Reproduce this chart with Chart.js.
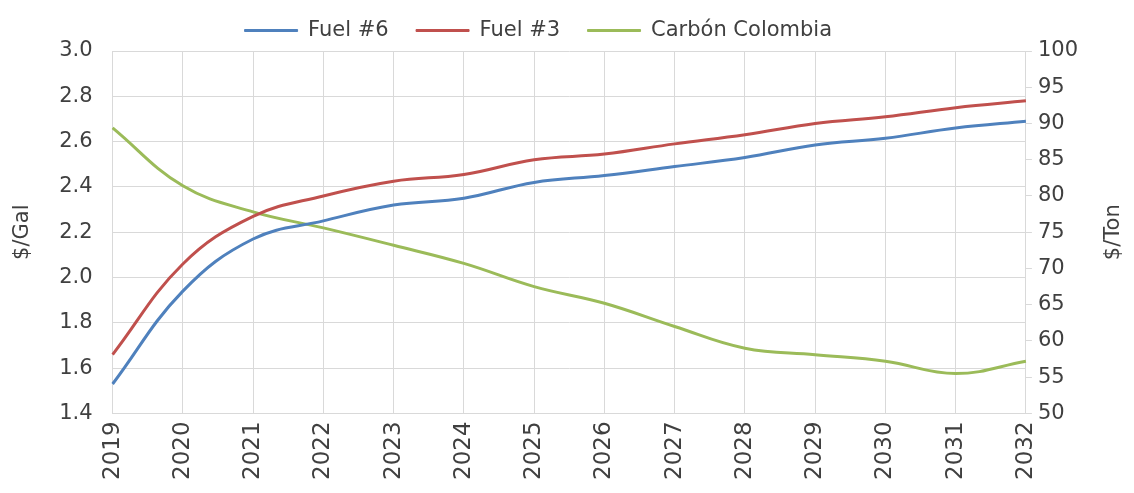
<!DOCTYPE html>
<html>
<head>
<meta charset="utf-8">
<script src="https://cdn.jsdelivr.net/npm/chart.js@4.4.0/dist/chart.umd.min.js"></script>
<style>
  html, body { margin: 0; padding: 0; background: #fff; }
  #wrap { width: 1134px; height: 493px; }
</style>
</head>
<body>
<div id="wrap"><canvas id="canvas1"></canvas></div>
<script>
var years = ["2019","2020","2021","2022","2023","2024","2025","2026","2027","2028","2029","2030","2031","2032"];
var fuel6 = [1.53, 1.94, 2.17, 2.25, 2.32, 2.35, 2.42, 2.45, 2.49, 2.53, 2.585, 2.615, 2.66, 2.69];
var fuel3 = [1.66, 2.06, 2.27, 2.36, 2.425, 2.455, 2.52, 2.545, 2.59, 2.63, 2.68, 2.71, 2.75, 2.78];
var carbon = [89.4, 81.4, 77.8, 75.6, 73.2, 70.7, 67.5, 65.2, 62.0, 59.0, 58.1, 57.2, 55.5, 57.2];

var font = "'DejaVu Sans', sans-serif";
var gridColor = "#d9d9d9";
var textColor = "#404040";

function line(label, data, color, axis) {
  return {
    label: label,
    data: data,
    yAxisID: axis,
    borderColor: color,
    backgroundColor: color,
    borderWidth: 3,
    pointRadius: 0,
    tension: 0.4,
    fill: false
  };
}

// right axis title reads bottom to top like the left one
var rightTitle = {
  id: "rightTitle",
  afterDraw: function(chart) {
    var c = chart.ctx, a = chart.chartArea;
    c.save();
    c.translate(1114, (a.top + a.bottom) / 2);
    c.rotate(-Math.PI / 2);
    c.fillStyle = textColor;
    c.font = "21px " + font;
    c.textAlign = "center";
    c.textBaseline = "middle";
    c.fillText("$/Ton", 0, 0);
    c.restore();
  }
};

var ctx = document.getElementById("canvas1").getContext("2d");
new Chart(ctx, {
  type: "line",
  data: {
    labels: years,
    datasets: [
      line("Fuel #6", fuel6, "#4f81bd", "y"),
      line("Fuel #3", fuel3, "#c0504d", "y"),
      line("Carbón Colombia", carbon, "#9bbb59", "y2")
    ]
  },
  options: {
    responsive: true,
    maintainAspectRatio: false,
    animation: false,
    layout: { padding: { top: 6, left: 6, right: 50, bottom: 5 } },
    plugins: {
      legend: {
        position: "top",
        labels: {
          boxWidth: 53,
          boxHeight: 2,
          padding: 14,
          color: textColor,
          font: { family: font, size: 21 },
          generateLabels: function(chart) {
            var items = Chart.defaults.plugins.legend.labels.generateLabels(chart);
            items.forEach(function(it) { it.lineWidth = 1; it.text = it.text + "  "; });
            return items;
          }
        }
      },
      tooltip: { enabled: false }
    },
    scales: {
      x: {
        grid: { color: gridColor, drawTicks: false },
        border: { color: gridColor },
        ticks: {
          minRotation: 90, maxRotation: 90,
          padding: 8,
          color: textColor,
          font: { family: font, size: 23 }
        }
      },
      y: {
        position: "left",
        min: 1.4, max: 3.0,
        grid: { color: gridColor, drawTicks: false },
        border: { color: gridColor },
        ticks: {
          stepSize: 0.2,
          padding: 20,
          color: textColor,
          font: { family: font, size: 21 },
          callback: function(v) { return v.toFixed(1); }
        },
        title: { display: true, text: "$/Gal", color: textColor, font: { family: font, size: 21 } }
      },
      y2: {
        position: "right",
        min: 50, max: 100,
        grid: { drawOnChartArea: false, color: gridColor, tickLength: 6 },
        border: { color: gridColor },
        ticks: {
          stepSize: 5,
          padding: 6,
          color: textColor,
          font: { family: font, size: 21 }
        }
      }
    }
  },
  plugins: [rightTitle]
});
</script>
</body>
</html>
